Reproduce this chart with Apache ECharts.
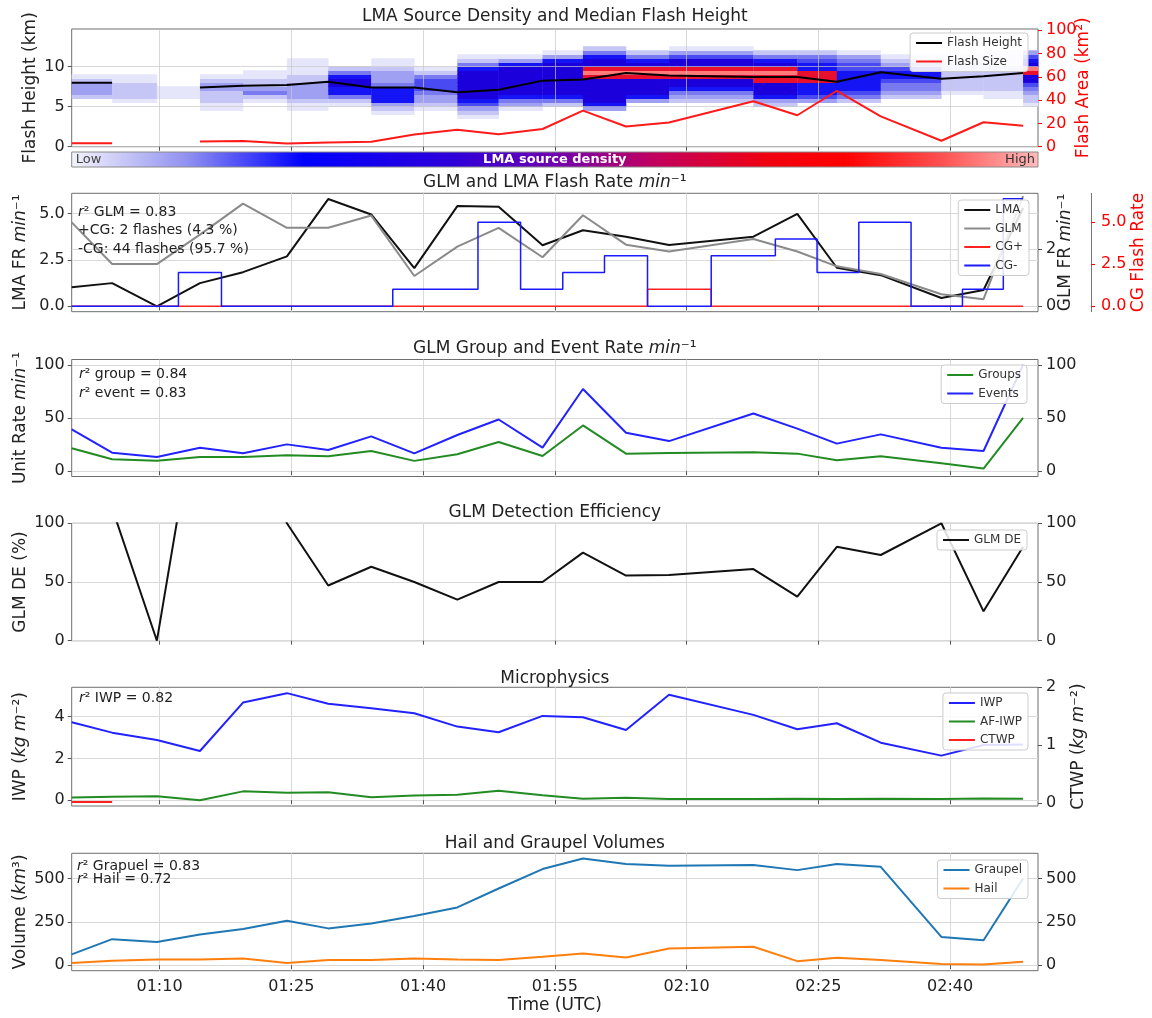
<!DOCTYPE html>
<html>
<head>
<meta charset="utf-8">
<script src="https://cdn.jsdelivr.net/npm/echarts@6/dist/echarts.min.js"></script>
<style>
html, body { margin: 0; padding: 0; background: #fff; }
#chart { width: 1152px; height: 1018px; }
</style>
</head>
<body>
<div id="chart"></div>
<script>
// scan times in minutes after 01:00 UTC
const times = [0, 4.6, 9.7, 14.6, 19.5, 24.5, 29.2, 34.1, 39.0, 43.9, 48.6, 53.6, 58.2, 63.1, 68.0, 77.6, 82.6, 87.1, 92.1, 99.0, 103.8, 108.3]
const timeEnd = 110
const timeTicks = [10, 25, 40, 55, 70, 85, 100]

// panel 1
const flashHeight = [8.0, 8.0, null, 7.4, 7.6, 7.7, 8.1, 7.4, 7.4, 6.8, 7.1, 8.25, 8.4, 9.2, 8.9, 8.7, 8.7, 8.1, 9.3, 8.5, 8.8, 9.2]
const flashSize = [3, 3, null, 4.5, 4.8, 2.8, 3.7, 4.2, 10.4, 14.6, 10.7, 15.2, 31, 17.3, 20.7, 39, 27, 48, 26, 5.1, 21, 18]
// LMA source density level (0-9), one string per time column, 0.5 km bins from 3 km up
const densityBottom = 3
const densityBin = 0.5
const densityCols = [
    '00000023332100000000',
    '00000122221100000000',
    '00000011100000000000',
    '00011222332100000000',
    '00000124322110000000',
    '00011233332211110000',
    '00001246677642000000',
    '00123666643332110000',
    '00012334555421000000',
    '01235677777776421000',
    '00013467777777631000',
    '00002467777777763100',
    '00036777777898776420',
    '00000367777898764200',
    '00000234677898775310',
    '00002367778898764200',
    '00000356668886654200',
    '00000245666665543100',
    '00000023445665321000',
    '00000001222222211000',
    '00000011222222111100',
    '00001223457789765300',
]
const heightTicks = [0, 5, 10]
const areaTicks = [0, 20, 40, 60, 80, 100]

// panel 2
const lmaRate = [1.03, 1.25, 0, 1.25, 1.84, 2.69, 5.78, 4.95, 2.06, 5.4, 5.36, 3.29, 4.1, 3.75, 3.3, 3.75, 4.98, 2.08, 1.68, 0.45, 0.88, 5.3]
const glmRate = [2.94, 1.48, 1.48, 2.51, 3.6, 2.75, 2.75, 3.18, 1.06, 2.09, 2.75, 1.72, 3.19, 2.16, 1.92, 2.36, 1.92, 1.4, 1.13, 0.42, 0.25, 3.86]
const cgPos = [0, 0, 0, 0, 0, 0, 0, 0, 0, 0, 0, 0, 0, 0, 1, 0, 0, 0, 0, 0, 0, 0]
const cgNeg = [0, 0, 0, 2, 0, 0, 0, 0, 1, 1, 5, 1, 2, 3, 0, 3, 4, 2, 5, 0, 1, 6.4]
const lmaTicks = [0, 2.5, 5]
const glmTicks = [0, 2]
const cgTicks = [0, 2.5, 5]

// panel 3
const groupRate = [21.5, 11.2, 9.7, 13.4, 13.4, 15.0, 14.0, 19.0, 9.7, 15.9, 27.4, 14.3, 43.0, 16.5, 17.1, 17.8, 16.5, 10.3, 14.0, 7.5, 2.5, 50.2]
const eventRate = [39.3, 17.4, 13.4, 22.1, 16.8, 25.2, 19.9, 32.7, 16.8, 34, 48.6, 22.1, 77.3, 36.1, 28.3, 54.2, 40, 25.9, 34.6, 22.1, 19.0, 100]
const rateTicks = [0, 50, 100]

// panel 4
const glmDE = [150, 113, 0, 218, 200, 100, 47, 63, 50, 35, 50, 50, 75, 55.5, 56, 61, 37.5, 80, 73, 100, 25, 80]
const deTicks = [0, 50, 100]

// panel 5
const iwp = [3.73, 3.23, 2.88, 2.35, 4.67, 5.12, 4.61, 4.40, 4.16, 3.52, 3.25, 4.03, 3.97, 3.36, 5.04, 4.08, 3.39, 3.68, 2.75, 2.13, 2.64, 2.66]
const afIwp = [0.13, 0.16, 0.19, 0.0, 0.42, 0.35, 0.38, 0.14, 0.22, 0.26, 0.45, 0.24, 0.07, 0.11, 0.06, 0.06, 0.07, 0.06, 0.07, 0.05, 0.08, 0.07]
const ctwp = [0.02, 0.02, null, null, null, null, null, null, null, null, null, null, null, null, null, null, null, null, null, null, null, null]
const iwpTicks = [0, 2, 4]
const ctwpTicks = [0, 1, 2]

// panel 6
const graupel = [62, 150, 134, 177, 208, 256, 212, 240, 283, 333, 442, 554, 615, 583, 573, 577, 548, 583, 567, 163, 144, 500]
const hail = [13, 25, 33, 33, 38, 13, 29, 29, 38, 33, 29, 48, 67, 44, 96, 106, 23, 42, 29, 6, 4, 19]
const volTicks = [0, 250, 500]

// layout
const plotLeft = 71.7
const plotRight = 1038
const gridTops = [29, 193.3, 359.5, 523.3, 687.3, 853.3]
const gridHeights = [117.7, 118.4, 117, 117.4, 118.7, 117.4]
const font = 'DejaVu Sans'
const textColor = '#222'
const gridColor = '#d9d9d9'

const levelColors = ['#ffffff', '#e6e6fb', '#c6c6f6', '#a0a0f2', '#7a7af0', '#4a4af2', '#1414f4', '#1c00dc', '#e8102c', '#ff7a7a']
const barStops = [
    { offset: 0, color: '#f4f4fc' },
    { offset: 0.12, color: '#9090f0' },
    { offset: 0.24, color: '#0000ff' },
    { offset: 0.4, color: '#3000d8' },
    { offset: 0.5, color: '#7000b0' },
    { offset: 0.6, color: '#c00060' },
    { offset: 0.72, color: '#f00010' },
    { offset: 0.8, color: '#ff0000' },
    { offset: 0.9, color: '#ff5050' },
    { offset: 1, color: '#ffbcbc' },
]

const pairs = (arr) => times.map((t, i) => [t, arr[i] == null ? '-' : arr[i]])

const cells = []
const edges = times.concat([timeEnd])
densityCols.forEach((col, i) => {
    col.split('').forEach((ch, k) => {
        const level = Number(ch)
        if (level > 0) {
            const h0 = densityBottom + k * densityBin
            cells.push([edges[i], edges[i + 1], h0, h0 + densityBin, level])
        }
    })
})

const fmtTime = (v) => {
    const tot = 60 + v
    const h = Math.floor(tot / 60)
    const m = Math.round(tot % 60)
    return String(h).padStart(2, '0') + ':' + String(m).padStart(2, '0')
}

const nameStyle = (color) => ({
    fontSize: 17,
    color: color || textColor,
    fontFamily: font,
    rich: {
        i: { fontStyle: 'italic', fontSize: 17, color: color || textColor, fontFamily: font },
    },
})

const makeY = (gridIndex, min, max, ticks, opts = {}) => ({
    type: 'value',
    gridIndex,
    min,
    max,
    position: opts.position || 'left',
    offset: opts.offset || 0,
    z: opts.z,
    axisLine: { show: !!opts.axisLine, lineStyle: { color: '#777' } },
    axisTick: {
        show: true,
        length: 4,
        customValues: ticks,
        lineStyle: { color: opts.tickColor || '#555' },
    },
    axisLabel: {
        customValues: ticks,
        color: opts.labelColor || textColor,
        fontSize: 16,
        fontFamily: font,
        margin: opts.margin || 7,
        formatter: opts.formatter,
    },
    splitLine: { show: !!opts.split, lineStyle: { color: opts.splitColor || gridColor } },
    name: opts.name || '',
    nameLocation: 'middle',
    nameRotate: 90,
    nameGap: opts.nameGap || 43,
    nameMoveOverlap: false,
    nameTextStyle: nameStyle(opts.nameColor),
})

const yAxes = [
    makeY(0, 0, 14.7, heightTicks, { split: true, splitColor: 'rgba(200,200,200,0.7)', z: 3, name: 'Flash Height (km)', nameGap: 33 }),
    makeY(0, 0, 101, areaTicks, { position: 'right', labelColor: '#f00', tickColor: '#f00', margin: 8, name: 'Flash Area (km²)', nameGap: 37, nameColor: '#f00' }),
    makeY(1, -0.29, 6.09, lmaTicks, { split: true, formatter: (v) => v.toFixed(1), name: 'LMA FR {i|min}⁻¹', nameGap: 43 }),
    makeY(1, -0.19, 3.96, glmTicks, { position: 'right', split: true, margin: 8, name: 'GLM FR {i|min}⁻¹', nameGap: 19 }),
    makeY(1, -0.33, 6.72, cgTicks, { position: 'right', offset: 53, axisLine: true, labelColor: '#f00', tickColor: '#f00', margin: 10, formatter: (v) => v.toFixed(1), name: 'CG Flash Rate', nameGap: 39, nameColor: '#f00' }),
    makeY(2, -5, 105, rateTicks, { split: true, name: 'Unit Rate {i|min}⁻¹', nameGap: 43 }),
    makeY(2, -5, 105, rateTicks, { position: 'right', margin: 8 }),
    makeY(3, 0, 100, deTicks, { split: true, name: 'GLM DE (%)', nameGap: 43 }),
    makeY(3, 0, 100, deTicks, { position: 'right', margin: 8 }),
    makeY(4, -0.28, 5.4, iwpTicks, { split: true, name: 'IWP ({i|kg m}⁻²)', nameGap: 43 }),
    makeY(4, -0.05, 2.0, ctwpTicks, { position: 'right', margin: 8, name: 'CTWP ({i|kg m}⁻²)', nameGap: 32 }),
    makeY(5, -32, 645, volTicks, { split: true, name: 'Volume ({i|km}³)', nameGap: 43 }),
    makeY(5, -32, 645, volTicks, { position: 'right', margin: 8 }),
]

const xAxes = gridTops.map((_, i) => ({
    type: 'value',
    gridIndex: i,
    min: 0,
    max: timeEnd,
    z: i === 0 ? 3 : undefined,
    axisLine: { show: false },
    axisTick: { show: true, length: 4, customValues: timeTicks, lineStyle: { color: '#555' } },
    axisLabel: {
        show: i === 5,
        customValues: timeTicks,
        formatter: fmtTime,
        fontSize: 16,
        fontFamily: font,
        color: textColor,
        margin: 8,
    },
    splitLine: { show: true, lineStyle: { color: i === 0 ? 'rgba(200,200,200,0.7)' : gridColor } },
    name: i === 5 ? 'Time (UTC)' : '',
    nameLocation: 'middle',
    nameGap: 26,
    nameTextStyle: { fontSize: 17, color: textColor, fontFamily: font },
}))

const line = (name, data, color, xi, yi, extra = {}) => Object.assign({
    type: 'line',
    name,
    data: pairs(data),
    xAxisIndex: xi,
    yAxisIndex: yi,
    color,
    symbol: 'none',
    lineStyle: { width: 2, color },
    z: 4,
    animation: false,
}, extra)

const legendBase = {
    orient: 'vertical',
    icon: 'rect',
    itemWidth: 26,
    itemHeight: 2,
    itemGap: 4.5,
    padding: [3, 6],
    backgroundColor: 'rgba(255,255,255,0.85)',
    borderColor: '#cccccc',
    borderWidth: 1,
    borderRadius: 3,
    selectedMode: false,
    align: 'left',
    textStyle: { fontSize: 12, color: '#333', fontFamily: font, lineHeight: 14 },
    z: 10,
}

const titleText = (y, text) => ({
    type: 'text',
    x: (plotLeft + plotRight) / 2,
    y,
    z: 20,
    style: {
        text,
        align: 'center',
        verticalAlign: 'middle',
        fontSize: 17,
        fontFamily: font,
        fill: textColor,
        rich: { i: { fontStyle: 'italic', fontSize: 17, fontFamily: font, fill: textColor } },
    },
})

const noteText = (x, y, text) => ({
    type: 'text',
    x,
    y,
    z: 20,
    style: {
        text,
        align: 'left',
        verticalAlign: 'middle',
        fontSize: 14,
        fontFamily: font,
        fill: textColor,
        rich: { i: { fontStyle: 'italic', fontSize: 14, fontFamily: font, fill: textColor } },
    },
})

const chart = echarts.init(document.getElementById('chart'))
chart.setOption({
    animation: false,
    backgroundColor: '#fff',
    textStyle: { fontFamily: font },
    grid: gridTops.map((top, i) => ({
        left: plotLeft,
        right: 1152 - plotRight,
        top,
        height: gridHeights[i],
        show: true,
        borderColor: '#6e6e6e',
        borderWidth: 1,
        backgroundColor: 'rgba(0,0,0,0)',
        containLabel: false,
        outerBoundsMode: 'none',
    })),
    xAxis: xAxes,
    yAxis: yAxes,
    visualMap: {
        type: 'continuous',
        show: false,
        seriesIndex: 0,
        dimension: 4,
        min: 0,
        max: 9,
        inRange: { color: levelColors },
    },
    legend: [
        Object.assign({}, legendBase, { data: ['Flash Height', 'Flash Size'], right: 124, top: 33 }),
        Object.assign({}, legendBase, { data: ['LMA', 'GLM', 'CG+', 'CG-'], right: 123, top: 200 }),
        Object.assign({}, legendBase, { data: ['Groups', 'Events'], right: 125, top: 365 }),
        Object.assign({}, legendBase, { data: ['GLM DE'], right: 125, top: 530 }),
        Object.assign({}, legendBase, { data: ['IWP', 'AF-IWP', 'CTWP'], right: 124, top: 693 }),
        Object.assign({}, legendBase, { data: ['Graupel', 'Hail'], right: 124, top: 860 }),
    ],
    series: [
        {
            type: 'custom',
            name: 'density',
            xAxisIndex: 0,
            yAxisIndex: 0,
            data: cells,
            encode: { x: [0, 1], y: [2, 3] },
            z: 1,
            renderItem: (params, api) => {
                const p0 = api.coord([api.value(0), api.value(2)])
                const p1 = api.coord([api.value(1), api.value(3)])
                return {
                    type: 'rect',
                    shape: { x: p0[0], y: p1[1] - 0.3, width: p1[0] - p0[0] + 0.3, height: p0[1] - p1[1] + 0.6 },
                    style: { fill: api.visual('color') },
                }
            },
        },
        line('Flash Height', flashHeight, '#000000', 0, 0),
        line('Flash Size', flashSize, '#ff1a1a', 0, 1),
        line('LMA', lmaRate, '#111111', 1, 2),
        line('GLM', glmRate, '#8a8a8a', 1, 3),
        line('CG+', cgPos, '#ff2020', 1, 4, { step: 'middle', lineStyle: { width: 1.5, color: '#ff2020' } }),
        line('CG-', cgNeg, '#1a1aff', 1, 4, { step: 'middle', lineStyle: { width: 1.5, color: '#1a1aff' } }),
        line('Groups', groupRate, '#228b22', 2, 5),
        line('Events', eventRate, '#2222ff', 2, 5),
        line('GLM DE', glmDE, '#111111', 3, 7),
        line('IWP', iwp, '#2222ff', 4, 9),
        line('AF-IWP', afIwp, '#228b22', 4, 9),
        line('CTWP', ctwp, '#ff2020', 4, 10),
        line('Graupel', graupel, '#1f77b4', 5, 11),
        line('Hail', hail, '#ff7f0e', 5, 11),
    ],
    graphic: [
        titleText(gridTops[0] - 12, 'LMA Source Density and Median Flash Height'),
        titleText(gridTops[1] - 11, 'GLM and LMA Flash Rate {i|min}⁻¹'),
        titleText(gridTops[2] - 11, 'GLM Group and Event Rate {i|min}⁻¹'),
        titleText(gridTops[3] - 11, 'GLM Detection Efficiency'),
        titleText(gridTops[4] - 9, 'Microphysics'),
        titleText(gridTops[5] - 10, 'Hail and Graupel Volumes'),
        noteText(78, 212, '{i|r}² GLM = 0.83'),
        noteText(78, 230.5, '+CG: 2 flashes (4.3 %)'),
        noteText(78, 249, '-CG: 44 flashes (95.7 %)'),
        noteText(79, 374, '{i|r}² group = 0.84'),
        noteText(79, 393, '{i|r}² event = 0.83'),
        noteText(79, 698, '{i|r}² IWP = 0.82'),
        noteText(77, 866, '{i|r}² Grapuel = 0.83'),
        noteText(77, 879.5, '{i|r}² Hail = 0.72'),
        {
            type: 'rect',
            z: 5,
            shape: { x: plotLeft, y: 152, width: plotRight - plotLeft, height: 15 },
            style: {
                fill: new echarts.graphic.LinearGradient(0, 0, 1, 0, barStops),
                stroke: '#8a8a8a',
                lineWidth: 1,
            },
        },
        {
            type: 'text', x: plotLeft + 4, y: 160, z: 6,
            style: { text: 'Low', align: 'left', verticalAlign: 'middle', fontSize: 13, fontFamily: font, fill: '#444' },
        },
        {
            type: 'text', x: plotRight - 3, y: 160, z: 6,
            style: { text: 'High', align: 'right', verticalAlign: 'middle', fontSize: 13, fontFamily: font, fill: '#333' },
        },
        {
            type: 'text', x: (plotLeft + plotRight) / 2, y: 160, z: 6,
            style: { text: 'LMA source density', align: 'center', verticalAlign: 'middle', fontSize: 13, fontWeight: 'bold', fontFamily: font, fill: '#fff' },
        },
    ],
})
</script>
</body>
</html>
